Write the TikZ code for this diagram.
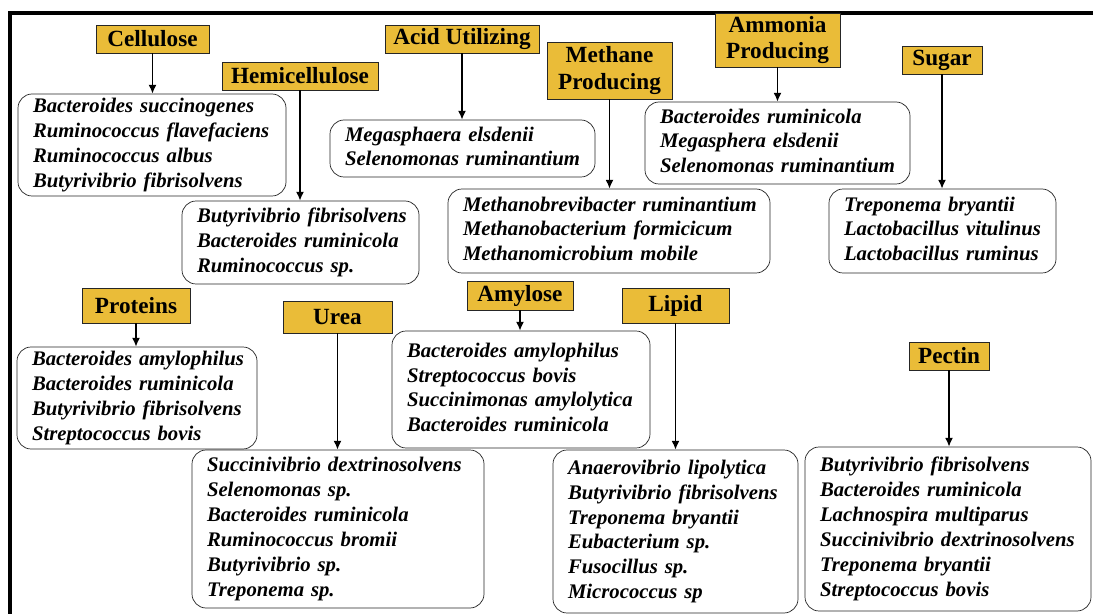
\documentclass[tikz,border=0pt]{standalone}
\usepackage{fontspec}
\setmainfont{Liberation Serif}
\usetikzlibrary{positioning, calc, arrows.meta}
\definecolor{hdrgold}{RGB}{234,188,56}
\newcommand{\spplist}[1]{\begin{tabular}{@{}l@{}}#1\end{tabular}}

\begin{document}
\begin{tikzpicture}[
	hdr/.style={draw=black!85, fill=hdrgold, inner sep=0pt, align=center, font=\bfseries\fontsize{13.2}{15}\selectfont},
	lst/.style={draw=black!85, rounded corners=8pt, inner xsep=0.3cm, inner ysep=0pt, align=left, font=\bfseries\itshape\fontsize{11.8}{14.2}\selectfont},
	arr/.style={-{Latex[length=5pt, width=4.5pt]}, line width=0.8pt}]
	\useasboundingbox (0, 0) rectangle (21.86, -12.28);
	\draw[line width=2.3pt] (0.2, -12.28) -- (0.2, -0.26) -- (21.86, -0.26);

	% top row
	\node[hdr, minimum width=2.26cm, minimum height=0.56cm] (cel) at (3.05, -0.78) {Cellulose};
	\node[hdr, minimum width=3.12cm, minimum height=0.56cm] (hemi) at (6.00, -1.52) {Hemicellulose};
	\node[hdr, minimum width=3.08cm, minimum height=0.56cm] (acid) at (9.24, -0.78) {Acid Utilizing};
	\node[hdr, minimum width=2.50cm, minimum height=1.14cm] (meth) at (12.19, -1.41) {Methane\\Producing};
	\node[hdr, minimum width=2.50cm, minimum height=1.08cm] (ammo) at (15.55, -0.80) {Ammonia\\Producing};
	\node[hdr, minimum width=1.60cm, minimum height=0.56cm] (sugar) at (18.84, -1.20) {Sugar};

	\node[lst, text width=4.76cm, minimum height=2.04cm] (cel-list) at (3.04, -2.90) {\spplist{Bacteroides succinogenes\\Ruminococcus flavefaciens\\Ruminococcus albus\\Butyrivibrio fibrisolvens}};
	\node[lst, text width=4.14cm, minimum height=1.66cm] (hemi-list) at (6.01, -4.85) {\spplist{Butyrivibrio fibrisolvens\\Bacteroides ruminicola\\Ruminococcus sp.}};
	\node[lst, text width=4.70cm, minimum height=1.14cm] (acid-list) at (9.25, -2.97) {\spplist{Megasphaera elsdenii\\Selenomonas ruminantium}};
	\node[lst, text width=5.84cm, minimum height=1.68cm] (meth-list) at (12.18, -4.62) {\spplist{Methanobrevibacter ruminantium\\Methanobacterium formicicum\\Methanomicrobium mobile}};
	\node[lst, text width=4.70cm, minimum height=1.64cm] (ammo-list) at (15.55, -2.86) {\spplist{Bacteroides ruminicola\\Megasphera elsdenii\\Selenomonas ruminantium}};
	\node[lst, text width=3.94cm, minimum height=1.68cm] (sugar-list) at (18.85, -4.62) {\spplist{Treponema bryantii\\Lactobacillus vitulinus\\Lactobacillus ruminus}};

	% bottom row
	\node[hdr, minimum width=2.16cm, minimum height=0.70cm] (prot) at (2.72, -6.11) {Proteins};
	\node[hdr, minimum width=2.18cm, minimum height=0.64cm] (urea) at (6.75, -6.34) {Urea};
	\node[hdr, minimum width=2.12cm, minimum height=0.58cm] (amyl) at (10.40, -5.91) {Amylose};
	\node[hdr, minimum width=2.14cm, minimum height=0.70cm] (lipid) at (13.51, -6.11) {Lipid};
	\node[hdr, minimum width=1.60cm, minimum height=0.56cm] (pect) at (18.98, -7.12) {Pectin};

	\node[lst, text width=4.20cm, minimum height=2.04cm] (prot-list) at (2.74, -7.96) {\spplist{Bacteroides amylophilus\\Bacteroides ruminicola\\Butyrivibrio fibrisolvens\\Streptococcus bovis}};
	\node[lst, text width=5.24cm, minimum height=3.16cm] (urea-list) at (6.76, -10.58) {\spplist{Succinivibrio dextrinosolvens\\Selenomonas sp.\\Bacteroides ruminicola\\Ruminococcus bromii\\Butyrivibrio sp.\\Treponema sp.}};
	\node[lst, text width=4.56cm, minimum height=2.34cm] (amyl-list) at (10.42, -7.79) {\spplist{Bacteroides amylophilus\\Streptococcus bovis\\Succinimonas amylolytica\\Bacteroides ruminicola}};
	\node[lst, text width=4.30cm, minimum height=3.26cm] (lipid-list) at (13.51, -10.63) {\spplist{Anaerovibrio lipolytica\\Butyrivibrio fibrisolvens\\Treponema bryantii\\Eubacterium sp.\\Fusocillus sp.\\Micrococcus sp}};
	\node[lst, text width=5.12cm, minimum height=3.28cm] (pect-list) at (18.96, -10.58) {\spplist{Butyrivibrio fibrisolvens\\Bacteroides ruminicola\\Lachnospira multiparus\\Succinivibrio dextrinosolvens\\Treponema bryantii\\Streptococcus bovis}};

	\draw[arr] (cel) -- (cel |- cel-list.north);
	\draw[arr] (hemi) -- (hemi |- hemi-list.north);
	\draw[arr] (acid) -- (acid |- acid-list.north);
	\draw[arr] (meth) -- (meth |- meth-list.north);
	\draw[arr] (ammo) -- (ammo |- ammo-list.north);
	\draw[arr] (sugar) -- (sugar |- sugar-list.north);
	\draw[arr] (prot) -- (prot |- prot-list.north);
	\draw[arr] (urea) -- (urea |- urea-list.north);
	\draw[arr] (amyl) -- (amyl |- amyl-list.north);
	\draw[arr] (lipid) -- (lipid |- lipid-list.north);
	\draw[arr] (pect) -- (pect |- pect-list.north);
\end{tikzpicture}
\end{document}
